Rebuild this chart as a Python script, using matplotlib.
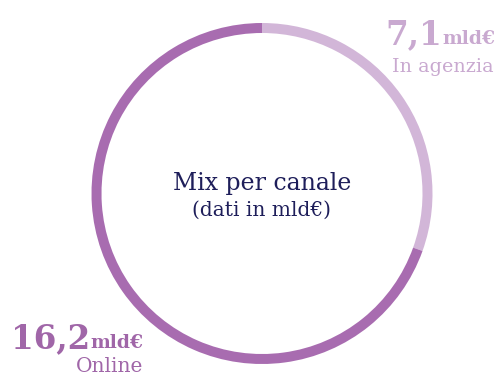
import matplotlib
matplotlib.use("Agg")
import matplotlib.pyplot as plt

# data
channels = ["In agenzia", "Online"]
values = [7.1, 16.2]
value_labels = ["7,1", "16,2"]
unit = "mld€"
colors = ["#d2b6d8", "#a86cb0"]
text_colors = ["#c9a9d0", "#a066a8"]
title = "Mix per canale"
subtitle = "(dati in mld€)"

W, H = 498, 376
fig = plt.figure(figsize=(W / 100, H / 100), dpi=100)
ax = fig.add_axes([0, 0, 1, 1])

cx, cy, r = 262, H - 193.5, 170.5
ax.pie(values, colors=colors, startangle=90, counterclock=False,
       center=(cx, cy), radius=r, wedgeprops=dict(width=10, linewidth=0),
       frame=True)
ax.set_xlim(0, W)
ax.set_ylim(0, H)
ax.set_aspect("equal")
ax.axis("off")

serif = "DejaVu Serif"
ax.text(cx, H - 190, title, ha="center", va="baseline", fontsize=17,
        family=serif, color="#1e1e5a")
ax.text(cx, H - 216, subtitle, ha="center", va="baseline", fontsize=14.5,
        family=serif, color="#1e1e5a")

fig.canvas.draw()
renderer = fig.canvas.get_renderer()


def value_label(x_right, y_base, num, color):
    u = ax.text(x_right, y_base, unit, ha="right", va="baseline", fontsize=13.5,
                family=serif, weight="bold", color=color)
    bb = u.get_window_extent(renderer)
    ax.text(x_right - bb.width, y_base, num, ha="right", va="baseline",
            fontsize=23.5, family=serif, weight="bold", color=color)


value_label(495, H - 44, value_labels[0], text_colors[0])
ax.text(494, H - 72, channels[0], ha="right", va="baseline", fontsize=13.8,
        family=serif, color=text_colors[0])

value_label(143, H - 348, value_labels[1], text_colors[1])
ax.text(143, H - 372, channels[1], ha="right", va="baseline", fontsize=14.5,
        family=serif, color=text_colors[1])

fig.savefig("out.png", dpi=100)
